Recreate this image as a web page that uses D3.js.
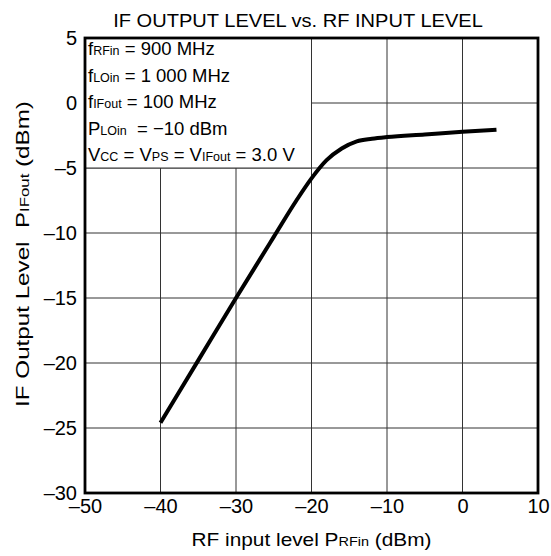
<!DOCTYPE html>
<html lang="en">
<head>
    <meta charset="UTF-8">
    <title>IF Output Level vs. RF Input Level</title>
    <script src="https://d3js.org/d3.v7.min.js"></script>
    <style>
        body { margin: 0; background: #fff; }
        text { font-family: "Liberation Sans", Arial, sans-serif; fill: #000; }
    </style>
</head>
<body>
    <svg id="chart" width="551" height="556"></svg>
    <script>
        // RF input level (dBm) and IF output level (dBm)
        var rfIn  = [-40, -35, -30, -25, -22, -20, -18, -16, -14, -12, -10, -5, 0, 4.5];
        var ifOut = [-24.6, -19.8, -15.0, -10.3, -7.5, -5.8, -4.4, -3.5, -2.95, -2.75, -2.62, -2.42, -2.22, -2.05];

        var xTicks = [-50, -40, -30, -20, -10, 0, 10];
        var yTicks = [5, 0, -5, -10, -15, -20, -25, -30];

        // conditions box: [text, is subscript] pieces per line
        var conditions = [
            [["f", 0], ["RFin", 1], [" = 900 MHz", 0]],
            [["f", 0], ["LOin", 1], [" = 1 000 MHz", 0]],
            [["f", 0], ["IFout", 1], [" = 100 MHz", 0]],
            [["P", 0], ["LOin", 1], ["  = \u221210 dBm", 0]],
            [["V", 0], ["CC", 1], [" = V", 0], ["PS", 1], [" = V", 0], ["IFout", 1], [" = 3.0 V", 0]]
        ];

        var svg = d3.select("#chart");
        var margin = { top: 38, right: 13, bottom: 63, left: 85 };
        var width = 551 - margin.left - margin.right;
        var height = 556 - margin.top - margin.bottom;

        var x = d3.scaleLinear().domain([-50, 10]).range([0, width]);
        var y = d3.scaleLinear().domain([-30, 5]).range([height, 0]);

        var g = svg.append("g")
            .attr("transform", "translate(" + margin.left + "," + margin.top + ")");

        // grid
        g.append("g").selectAll("line").data(xTicks).join("line")
            .attr("x1", function(d) { return x(d); })
            .attr("x2", function(d) { return x(d); })
            .attr("y1", 0).attr("y2", height)
            .attr("stroke", "#333").attr("stroke-width", 1);
        g.append("g").selectAll("line").data(yTicks).join("line")
            .attr("x1", 0).attr("x2", width)
            .attr("y1", function(d) { return y(d); })
            .attr("y2", function(d) { return y(d); })
            .attr("stroke", "#333").attr("stroke-width", 1);

        // white box behind the conditions
        g.append("rect")
            .attr("x", x(-50)).attr("y", y(5))
            .attr("width", x(-20) - x(-50)).attr("height", y(-5) - y(5))
            .attr("fill", "#fff").attr("stroke", "#333").attr("stroke-width", 1);

        // axes (labels only)
        var fmt = function(d) { return String(d).replace("-", "\u2013"); };
        var xAxis = g.append("g")
            .attr("transform", "translate(0," + height + ")")
            .call(d3.axisBottom(x).tickValues(xTicks).tickSize(0).tickPadding(6).tickFormat(fmt));
        var yAxis = g.append("g")
            .call(d3.axisLeft(y).tickValues(yTicks).tickSize(0).tickPadding(8).tickFormat(fmt));
        xAxis.select(".domain").remove();
        yAxis.select(".domain").remove();
        svg.selectAll(".tick text")
            .attr("font-family", "Liberation Sans, Arial, sans-serif")
            .attr("font-size", 20).attr("fill", "#000");

        // frame
        g.append("rect")
            .attr("width", width).attr("height", height)
            .attr("fill", "none").attr("stroke", "#000").attr("stroke-width", 2.8);

        // curve
        var pts = rfIn.map(function(d, i) { return { rf: d, out: ifOut[i] }; });
        var line = d3.line()
            .x(function(d) { return x(d.rf); })
            .y(function(d) { return y(d.out); })
            .curve(d3.curveMonotoneX);
        g.append("path")
            .datum(pts)
            .attr("fill", "none")
            .attr("stroke", "#000")
            .attr("stroke-width", 4)
            .attr("d", line);

        // conditions text
        conditions.forEach(function(parts, i) {
            var t = g.append("text")
                .attr("x", 3)
                .attr("y", 17 + i * 26.5)
                .attr("font-size", 18.5)
                .attr("xml:space", "preserve");
            parts.forEach(function(p) {
                t.append("tspan")
                    .attr("font-size", p[1] ? 12.5 : 18.5)
                    .text(p[0]);
            });
        });

        // the source font is wider than Liberation Sans: stretch a centred label to a width
        function stretched(cx, cy, rot, w) {
            var t = svg.append("text")
                .attr("text-anchor", "middle").attr("font-size", 18)
                .attr("xml:space", "preserve");
            t.fit = function() {
                var k = w / t.node().getComputedTextLength();
                t.attr("transform", "translate(" + cx + "," + cy + ") rotate(" + rot + ") scale(" + k + ",1)");
                return t;
            };
            return t;
        }

        // title
        var tt = stretched(298, 27, 0, 370);
        tt.text("IF OUTPUT LEVEL vs. RF INPUT LEVEL");
        tt.fit();

        // x axis title
        var xt = stretched(margin.left + width / 2, 546, 0, 240);
        xt.append("tspan").text("RF input level P");
        xt.append("tspan").attr("font-size", 12.5).text("RFin");
        xt.append("tspan").text(" (dBm)");
        xt.fit();

        // y axis title
        var yt = stretched(29, 254, -90, 306);
        yt.append("tspan").text("IF Output Level  P");
        yt.append("tspan").attr("font-size", 12.5).text("IFout");
        yt.append("tspan").text(" (dBm)");
        yt.fit();
    </script>
</body>
</html>
